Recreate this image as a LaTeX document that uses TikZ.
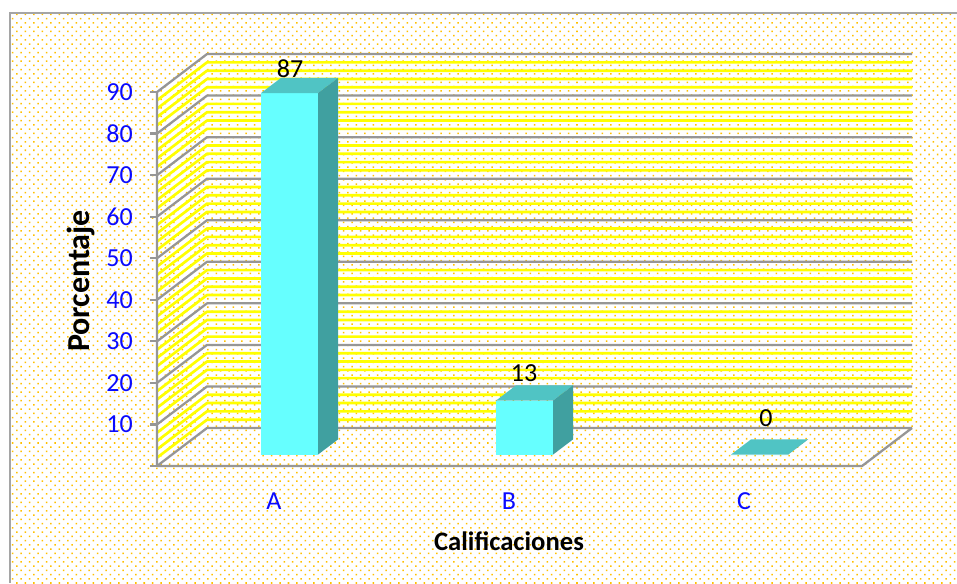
\documentclass[tikz,border=0pt]{standalone}
\usepackage{fontspec}
\setmainfont{Carlito}
\usetikzlibrary{patterns.meta}

\definecolor{dotgold}{RGB}{255,192,0}
\definecolor{gridgray}{RGB}{150,150,150}
\definecolor{framegray}{RGB}{165,165,165}
\definecolor{stripeyellow}{RGB}{255,255,0}
\definecolor{barfront}{RGB}{102,255,255}
\definecolor{bartop}{RGB}{80,196,196}
\definecolor{barside}{RGB}{64,160,160}
\definecolor{axisblue}{RGB}{10,10,255}

\tikzset{
  grid line/.style={draw=gridgray, line width=1.7pt, line join=round},
  stripe line/.style={draw=stripeyellow, line width=2pt, line join=round},
  tick label/.style={text=axisblue, anchor=east, inner sep=0pt, font=\fontsize{19.5}{19.5}\selectfont},
  cat label/.style={text=axisblue, inner sep=0pt, font=\fontsize{19.5}{19.5}\selectfont},
  value label/.style={inner sep=0pt, font=\fontsize{19.5}{19.5}\selectfont},
  axis title/.style={inner sep=0pt, font=\bfseries\fontsize{20}{20}\selectfont}
}

% one 3D bar: category centre, value
\newcommand{\chartbar}[2]{
  \begin{scope}[shift={(#1,466)}]
    \fill[barfront] (-13.5,{-11.4-4.155*#2}) rectangle (43.5,-11.4);
    \fill[bartop] (-13.5,{-11.4-4.155*#2}) -- (43.5,{-11.4-4.155*#2})
      -- (63.5,{-26.6-4.155*#2}) -- (6.5,{-26.6-4.155*#2}) -- cycle;
    \fill[barside] (43.5,{-11.4-4.155*#2}) -- (63.5,{-26.6-4.155*#2})
      -- (63.5,-26.6) -- (43.5,-11.4) -- cycle;
  \end{scope}
}

\begin{document}
\begin{tikzpicture}[x=0.75pt,y=-0.75pt]
  \useasboundingbox (0,0) rectangle (957,583);
  \fill[white] (0,0) rectangle (957,583);
  \fill[pattern={Dots[distance=4.5pt, radius=0.8pt, angle=45]}, pattern color=dotgold]
    (10,13) rectangle (957,583);
  \draw[framegray, line width=1.6pt] (10,583) -- (10,13) -- (957,13);

  % walls
  \foreach \g in {0,10,...,80}
    \foreach \s in {2,4,6,8}
      \draw[stripe line] (157,{466-4.155*(\g+\s)}) -- (207,{428-4.155*(\g+\s)})
        -- (912,{428-4.155*(\g+\s)});
  \foreach \g in {0,10,...,90} {
    \draw[grid line] (157,{466-4.155*\g}) -- (207,{428-4.155*\g}) -- (912,{428-4.155*\g});
    \draw[grid line] (150,{466-4.155*\g}) -- (157,{466-4.155*\g});
  }
  \draw[grid line] (157,92) -- (157,466) -- (862,466) -- (912,428);

  \foreach \g in {10,20,...,90}
    \node[tick label] (t\g) at (133,{466-4.155*\g}) {\g};

  \chartbar{274.5}{87}
  \chartbar{509.5}{13}
  \chartbar{744.5}{0}

  \node[value label] (vA) at (290,69) {87};
  \node[value label] (vB) at (524,373) {13};
  \node[value label] (vC) at (766,418) {0};

  \node[cat label] (cA) at (274,501) {A};
  \node[cat label] (cB) at (509,501) {B};
  \node[cat label] (cC) at (744,501) {C};

  \node[axis title] (xtitle) at (509,541) {Calificaciones};
  \node[axis title, font=\bfseries\fontsize{24}{24}\selectfont, rotate=90] (ytitle) at (81,281) {Porcentaje};
\end{tikzpicture}
\end{document}
